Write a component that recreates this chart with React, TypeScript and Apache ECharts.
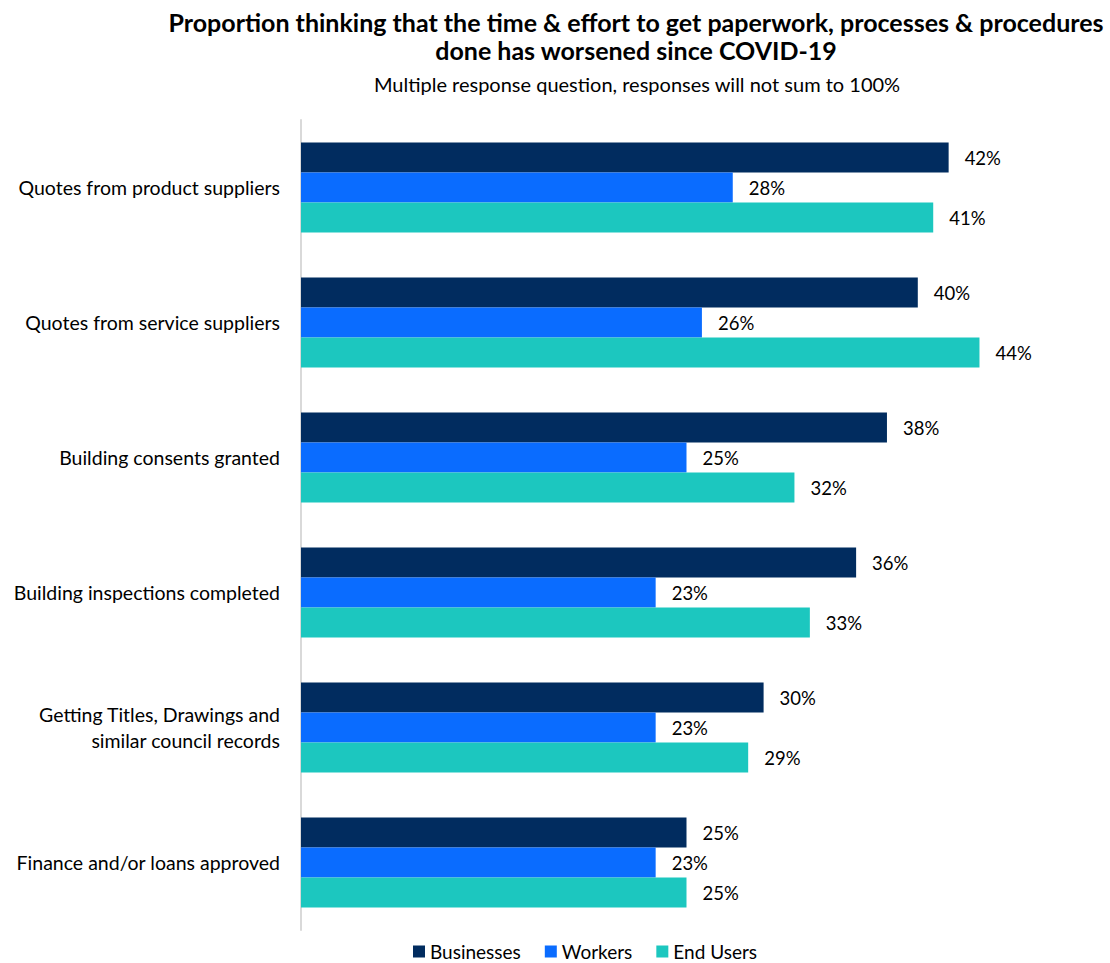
import React, { useEffect, useRef } from "react";
import * as echarts from "echarts";

const categories = [
  "Quotes from product suppliers",
  "Quotes from service suppliers",
  "Building consents granted",
  "Building inspections completed",
  "Getting Titles, Drawings and\nsimilar council records",
  "Finance and/or loans approved",
];
const businesses = [42, 40, 38, 36, 30, 25];
const workers = [28, 26, 25, 23, 23, 23];
const endUsers = [41, 44, 32, 33, 29, 25];
const seriesNames = ["Businesses", "Workers", "End Users"];
const colors = ["#012C5F", "#0A6CFF", "#1CC7BF"];

const FONT = "Lato, 'Open Sans', sans-serif";

export default function App() {
  const ref = useRef<HTMLDivElement>(null);
  useEffect(() => {
    if (!ref.current) return;
    const chart = echarts.init(ref.current, undefined, { renderer: "svg" });
    const mk = (name: string, data: number[], color: string) => ({
      name,
      type: "bar",
      data,
      barWidth: 30,
      barGap: "0%",
      itemStyle: { color },
      label: {
        show: true,
        position: "right",
        distance: 16,
        formatter: "{c}%",
        color: "#000",
        fontSize: 18.5,
        fontFamily: FONT,
      },
    });
    chart.setOption({
      animation: false,
      textStyle: { fontFamily: FONT },
      title: [
        {
          text: "Proportion thinking that the time & effort to get paperwork, processes & procedures\ndone has worsened since COVID-19",
          left: 636,
          top: 8,
          padding: 0,
          textAlign: "center",
          textStyle: { fontSize: 25, fontWeight: "bold", color: "#000", lineHeight: 28, fontFamily: FONT },
        },
        {
          text: "Multiple response question, responses will not sum to 100%",
          left: 637,
          top: 73,
          padding: 0,
          textAlign: "center",
          textStyle: { fontSize: 20, fontWeight: "normal", color: "#000", lineHeight: 22, fontFamily: FONT },
        },
      ],
      legend: {
        data: seriesNames,
        left: 413,
        top: 942,
        padding: 0,
        itemWidth: 12,
        itemHeight: 12,
        itemGap: 24,
        icon: "rect",
        textStyle: { fontSize: 19, color: "#000", fontFamily: FONT, lineHeight: 19 },
      },
      grid: { left: 301, right: 38, top: 120, bottom: 33, containLabel: false },
      xAxis: {
        type: "value",
        min: 0,
        max: 50,
        show: false,
        splitLine: { show: false },
      },
      yAxis: {
        type: "category",
        data: categories,
        inverse: true,
        axisLine: { show: true, lineStyle: { color: "#D9D9D9", width: 2 } },
        axisTick: { show: false },
        axisLabel: { color: "#000", fontSize: 19.5, margin: 21, fontFamily: FONT, lineHeight: 26 },
      },
      series: [
        mk(seriesNames[0], businesses, colors[0]),
        mk(seriesNames[1], workers, colors[1]),
        mk(seriesNames[2], endUsers, colors[2]),
      ],
    });
    return () => chart.dispose();
  }, []);
  return (
    <div
      ref={ref}
      style={{ position: "fixed", left: 0, top: 0, width: 1110, height: 963, background: "#fff" }}
    />
  );
}
